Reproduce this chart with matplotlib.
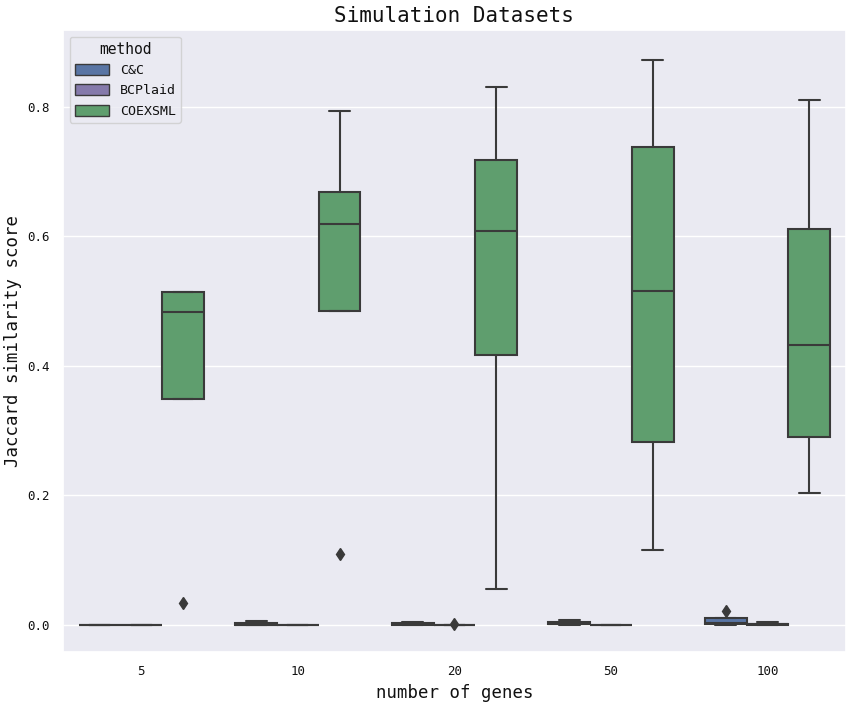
import numpy as np
import matplotlib
matplotlib.use("Agg")
import matplotlib.pyplot as plt
import matplotlib.patches as mpatches
import seaborn as sns

# values
genes = ["5", "10", "20", "50", "100"]
methods = ["C&C", "BCPlaid", "COEXSML"]

# per method: one entry per gene count
cc_q1 = [0.0, 0.0, 0.0, 0.001, 0.002]
cc_med = [0.0, 0.0, 0.001, 0.002, 0.003]
cc_q3 = [0.0, 0.003, 0.003, 0.005, 0.010]
cc_lo = [0.0, 0.0, 0.0, 0.0, 0.0]
cc_hi = [0.0, 0.006, 0.004, 0.008, 0.010]
cc_fliers = [[], [], [], [], [0.022]]

bp_q1 = [0.0, 0.0, 0.0, 0.0, 0.0]
bp_med = [0.0, 0.0, 0.0, 0.0, 0.001]
bp_q3 = [0.0, 0.0, 0.0, 0.0, 0.002]
bp_lo = [0.0, 0.0, 0.0, 0.0, 0.0]
bp_hi = [0.0, 0.0, 0.0, 0.0, 0.004]
bp_fliers = [[], [], [0.001], [], []]

cx_q1 = [0.349, 0.485, 0.417, 0.282, 0.291]
cx_med = [0.483, 0.619, 0.608, 0.516, 0.433]
cx_q3 = [0.514, 0.669, 0.718, 0.738, 0.611]
cx_lo = [0.349, 0.485, 0.055, 0.116, 0.203]
cx_hi = [0.514, 0.793, 0.831, 0.873, 0.811]
cx_fliers = [[0.034], [0.110], [], [], []]

series = [
    (cc_q1, cc_med, cc_q3, cc_lo, cc_hi, cc_fliers),
    (bp_q1, bp_med, bp_q3, bp_lo, bp_hi, bp_fliers),
    (cx_q1, cx_med, cx_q3, cx_lo, cx_hi, cx_fliers),
]

sns.set_theme(style="darkgrid")
plt.rcParams["font.family"] = ["DejaVu Sans Mono", "DejaVu Sans"]
plt.rcParams["text.color"] = "#111111"
plt.rcParams["axes.labelcolor"] = "#111111"
plt.rcParams["xtick.color"] = "#111111"
plt.rcParams["ytick.color"] = "#111111"

deep = sns.color_palette("deep")
colors = [sns.desaturate(c, 0.75) for c in (deep[0], deep[4], deep[2])]
gray = "#3a3a3a"

fig = plt.figure(figsize=(8.51, 7.04), dpi=100)
ax = fig.add_axes([0.074, 0.074, 0.920, 0.8835])

width = 0.8 / 3
offsets = [-width, 0, width]
x = np.arange(len(genes))

for m, (q1, med, q3, lo, hi, fl) in enumerate(series):
    stats = []
    for i in range(len(genes)):
        stats.append(dict(q1=q1[i], med=med[i], q3=q3[i], whislo=lo[i],
                          whishi=hi[i], fliers=fl[i]))
    ax.bxp(stats, positions=x + offsets[m], widths=width,
           capwidths=width / 2, patch_artist=True, manage_ticks=False,
           boxprops=dict(facecolor=colors[m], edgecolor=gray, linewidth=1.5),
           medianprops=dict(color=gray, linewidth=1.5),
           whiskerprops=dict(color=gray, linewidth=1.5),
           capprops=dict(color=gray, linewidth=1.5),
           flierprops=dict(marker="d", markerfacecolor=gray, markeredgecolor=gray,
                           markersize=6))

ax.set_xlim(-0.5, len(genes) - 0.5)
ax.set_ylim(-0.0417, 0.919)
ax.set_xticks(x)
ax.set_xticklabels(genes, fontsize=9)
ax.set_yticks([0.0, 0.2, 0.4, 0.6, 0.8])
ax.set_yticklabels(["0.0", "0.2", "0.4", "0.6", "0.8"], fontsize=9)
ax.xaxis.grid(False)
ax.set_xlabel("number of genes", fontsize=12.5, labelpad=4)
ax.set_ylabel("Jaccard similarity score", fontsize=12.5, labelpad=4)
ax.set_title("Simulation Datasets", fontsize=15, pad=6)

handles = [mpatches.Patch(facecolor=colors[m], edgecolor=gray, label=methods[m])
           for m in range(3)]
ax.legend(handles=handles, title="method", loc="upper left", fontsize=9.5,
          title_fontsize=10.5, handlelength=2.6, handleheight=0.9,
          labelspacing=0.55)

fig.savefig("out.png", dpi=100)
